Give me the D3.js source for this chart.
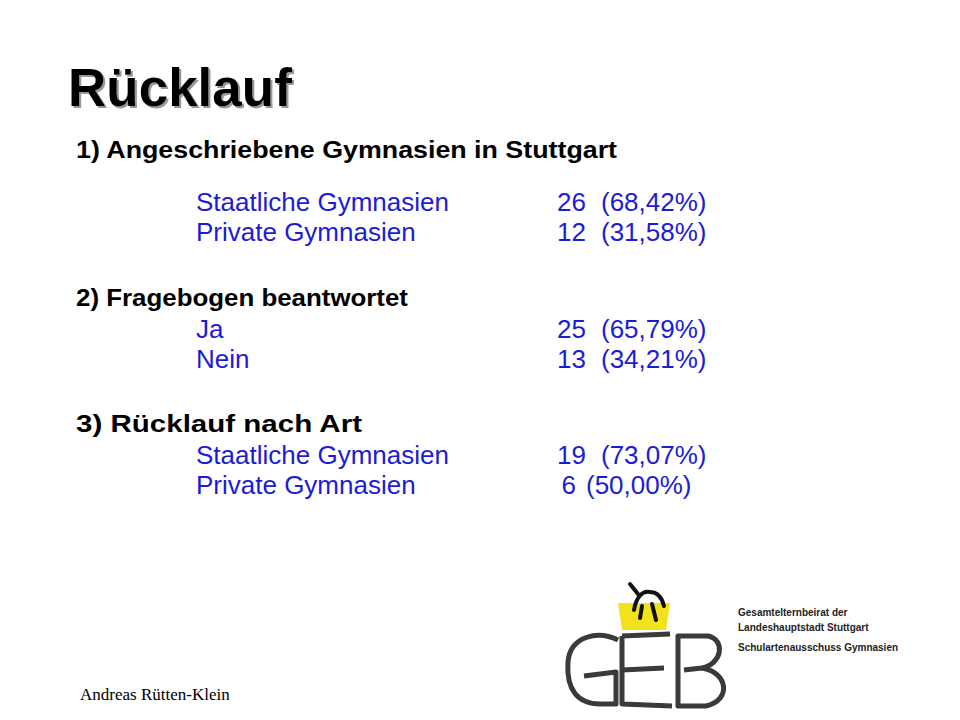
<!DOCTYPE html>
<html><head><meta charset="utf-8">
<script src="https://cdn.jsdelivr.net/npm/d3@7"></script>
<style>body{margin:0;background:#fff}</style>
</head><body>
<svg id="slide" width="960" height="720"></svg>
<script>
const headings = ['1) Angeschriebene Gymnasien in Stuttgart', '2) Fragebogen beantwortet', '3) Rücklauf nach Art']
const labels = [['Staatliche Gymnasien', 'Private Gymnasien'], ['Ja', 'Nein'], ['Staatliche Gymnasien', 'Private Gymnasien']]
const counts = [[26, 12], [25, 13], [19, 6]]
const percents = [['68,42%', '31,58%'], ['65,79%', '34,21%'], ['73,07%', '50,00%']]
const headY = [158, 306, 432]
const rowY = [[211, 241], [338, 368], [464, 494]]

let svg = d3.select('#slide')
const font = 'Arial, "Liberation Sans", sans-serif'
const blue = '#1c1cd6'

// title with drop shadow
svg.append('defs').append('filter').attr('id', 'shadow')
    .append('feDropShadow').attr('dx', 2).attr('dy', 2).attr('stdDeviation', 0.6).attr('flood-color', '#999')
svg.append('text').attr('x', 68).attr('y', 106).text('Rücklauf')
    .attr('font-family', font).attr('font-size', 53).attr('font-weight', 'bold').attr('fill', '#000')
    .attr('filter', 'url(#shadow)')

headings.forEach((h, i) => {
    svg.append('text').attr('x', 76).attr('y', headY[i]).text(h)
        .attr('font-family', font).attr('font-size', 23).attr('font-weight', 'bold')
        .attr('textLength', [541, 332, 286][i]).attr('lengthAdjust', 'spacingAndGlyphs')
    labels[i].forEach((l, j) => {
        let y = rowY[i][j]
        let g = svg.append('g').attr('font-family', font).attr('font-size', 26).attr('fill', blue)
        g.append('text').attr('x', 196).attr('y', y).text(l)
        g.append('text').attr('x', counts[i][j] < 10 ? 576 : 586).attr('y', y).attr('text-anchor', 'end').text(counts[i][j])
        g.append('text').attr('x', counts[i][j] < 10 ? 586 : 601).attr('y', y).text('(' + percents[i][j] + ')')
    })
})

svg.append('text').attr('x', 80).attr('y', 700).text('Andreas Rütten-Klein')
    .attr('font-family', '"Liberation Serif", "Times New Roman", serif').attr('font-size', 17)

// logo
let logo = svg.append('g')
logo.append('path').attr('d', 'M618,603 L670,603 L666,630 L622,630 Z').attr('fill', '#f2e21c')
logo.append('path').attr('d', 'M634,610 C636,598 642,590 650,592 C658,592 662,598 664,606 M642,606 L640,618 M652,604 L656,620 M638,594 L630,584')
    .attr('fill', 'none').attr('stroke', '#111').attr('stroke-width', 4).attr('stroke-linecap', 'round')
let strokeStyle = p => logo.append('path').attr('d', p).attr('fill', 'none').attr('stroke', '#3a3a3a')
    .attr('stroke-width', 5).attr('stroke-linejoin', 'round')
// G
strokeStyle('M618,640 C598,630 570,636 568,662 C566,690 578,704 600,704 L616,704 L616,672 L584,676')
// E
strokeStyle('M622,636 L670,634 M622,670 L664,668 M622,636 L622,704 L672,706')
// B
strokeStyle('M678,636 L708,636 C726,640 722,664 702,668 C728,672 732,700 706,706 L678,706 Z M684,670 L702,668')
svg.append('g').attr('font-family', font).attr('font-size', 10).attr('font-weight', 'bold').attr('fill', '#222')
    .selectAll('text').data([['Gesamtelternbeirat der', 616], ['Landeshauptstadt Stuttgart', 631], ['Schulartenausschuss Gymnasien', 651]])
    .join('text').attr('x', 738).attr('y', d => d[1]).text(d => d[0])
</script>
</body></html>
